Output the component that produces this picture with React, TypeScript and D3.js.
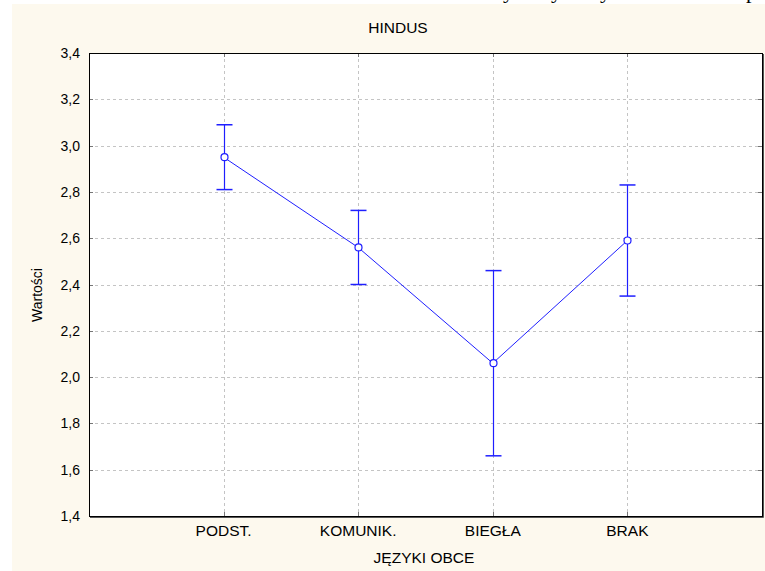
import React from "react";
import * as d3 from "d3";

const categories = ["PODST.", "KOMUNIK.", "BIEGŁA", "BRAK"];
const means = [2.95, 2.56, 2.06, 2.59];
const upper = [3.09, 2.72, 2.46, 2.83];
const lower = [2.81, 2.40, 1.66, 2.35];
const yTicks = [1.4, 1.6, 1.8, 2.0, 2.2, 2.4, 2.6, 2.8, 3.0, 3.2, 3.4];
const title = "HINDUS";
const xTitle = "JĘZYKI OBCE";
const yTitle = "Wartości";

export default function App() {
  const W = 765, H = 571;
  const left = 89, right = 762, top = 53, bottom = 516;
  const x = d3.scaleLinear().domain([0, categories.length + 1]).range([left, right]);
  const y = d3.scaleLinear().domain([1.4, 3.4]).range([bottom, top]);
  const line = d3.line<number>().x((_, i) => x(i + 1)).y((d) => y(d));
  const blue = "#1f1fff";
  const font = "'Liberation Sans', Arial, sans-serif";
  const fmt = (v: number) => v.toFixed(1).replace(".", ",");
  return (
    <div style={{ position: "absolute", left: 0, top: 0 }}>
      <svg width={W} height={H} style={{ display: "block" }}>
        <rect x={0} y={0} width={W} height={H} fill="#ffffff" />
        <rect x={12} y={4} width={W - 12} height={H - 4} fill="#fdf9ee" />
        {/* cut-off document text */}
        <g fontFamily="'Liberation Serif', 'Times New Roman', serif" fontSize={22} fill="#000">
          <text x={503} y={-2}>y</text>
          <text x={551} y={-2}>y</text>
          <text x={600} y={-2}>y</text>
          <text x={746} y={-2}>p</text>
        </g>
        <rect x={left} y={top} width={right - left} height={bottom - top} fill="#ffffff" />
        {/* grid */}
        <g stroke="#c4c4c4" strokeDasharray="3,3" strokeWidth={1}>
          {yTicks.slice(1, -1).map((t) => (
            <line key={"h" + t} x1={left} x2={right} y1={Math.round(y(t)) + 0.5} y2={Math.round(y(t)) + 0.5} />
          ))}
          {categories.map((c, i) => (
            <line key={"v" + c} x1={Math.round(x(i + 1)) + 0.5} x2={Math.round(x(i + 1)) + 0.5} y1={top} y2={bottom} />
          ))}
        </g>
        {/* inner ticks */}
        <g stroke="#777" strokeWidth={1}>
          {yTicks.map((t) => (
            <g key={"t" + t}>
              <line x1={left} x2={left + 4} y1={Math.round(y(t)) + 0.5} y2={Math.round(y(t)) + 0.5} />
              <line x1={right - 4} x2={right} y1={Math.round(y(t)) + 0.5} y2={Math.round(y(t)) + 0.5} />
            </g>
          ))}
          {categories.map((c, i) => (
            <g key={"tx" + c}>
              <line x1={Math.round(x(i + 1)) + 0.5} x2={Math.round(x(i + 1)) + 0.5} y1={bottom - 4} y2={bottom} />
              <line x1={Math.round(x(i + 1)) + 0.5} x2={Math.round(x(i + 1)) + 0.5} y1={top} y2={top + 4} />
            </g>
          ))}
        </g>
        {/* frame */}
        <rect x={left + 0.5} y={top + 0.5} width={right - left} height={bottom - top} fill="none" stroke="#000" strokeWidth={1} />
        <line x1={left + 1} x2={right + 1.5} y1={bottom + 1.5} y2={bottom + 1.5} stroke="#555" />
        <line x1={right + 1.5} x2={right + 1.5} y1={top + 1} y2={bottom + 1.5} stroke="#555" />
        {/* error bars */}
        <g stroke={blue} strokeWidth={1.2}>
          {categories.map((c, i) => {
            const cx = Math.round(x(i + 1)) + 0.5;
            return (
              <g key={"e" + c}>
                <line x1={cx} x2={cx} y1={y(upper[i])} y2={y(lower[i])} />
                <line x1={cx - 8} x2={cx + 8} y1={y(upper[i])} y2={y(upper[i])} strokeWidth={1.5} />
                <line x1={cx - 8} x2={cx + 8} y1={y(lower[i])} y2={y(lower[i])} strokeWidth={1.5} />
              </g>
            );
          })}
        </g>
        <path d={line(means) || ""} fill="none" stroke={blue} strokeWidth={1} />
        {means.map((m, i) => (
          <circle key={"p" + i} cx={Math.round(x(i + 1)) + 0.5} cy={y(m)} r={3.5} fill="#fff" stroke={blue} strokeWidth={1.2} />
        ))}
        {/* labels */}
        <g fontFamily={font} fill="#000">
          {yTicks.map((t) => (
            <text key={"yl" + t} x={80} y={y(t)} dy="0.36em" textAnchor="end" fontSize={14}>{fmt(t)}</text>
          ))}
          {categories.map((c, i) => (
            <text key={"xl" + c} x={x(i + 1)} y={536} textAnchor="middle" fontSize={15.5}>{c}</text>
          ))}
          <text x={424} y={563} textAnchor="middle" fontSize={15.5}>{xTitle}</text>
          <text x={398} y={33} textAnchor="middle" fontSize={15.5}>{title}</text>
          <text transform={`translate(42,${295}) rotate(-90)`} textAnchor="middle" fontSize={14}>{yTitle}</text>
        </g>
      </svg>
    </div>
  );
}
